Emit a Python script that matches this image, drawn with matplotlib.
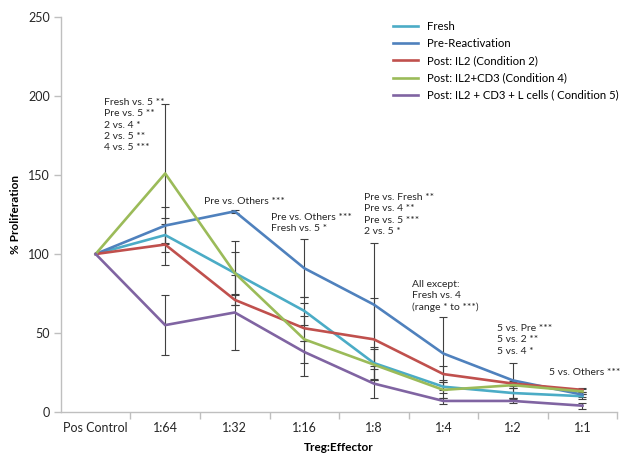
import matplotlib.pyplot as plt
from matplotlib.ticker import FixedLocator

# Dados do grafico
categorias = ['Pos Control', '1:64', '1:32', '1:16', '1:8', '1:4', '1:2', '1:1']

fresh = [100, 112, 88, 64, 31, 16, 12, 10]
fresh_err = [0, 11, 20, 9, 10, 4, 3, 1.5]

pre = [100, 118, 127, 91, 68, 37, 20, 11]
pre_err = [0, 11.5, 1, 18.5, 39, 23, 11, 1.5]

il2 = [100, 106, 71, 53, 46, 24, 18, 14]
il2_err = [0, 13, 3, 8, 26, 5, 1.5, 1.5]

il2_cd3 = [100, 151, 88, 46, 30, 14, 17, 13]
il2_cd3_err = [0, 44, 13.5, 23, 10, 5, 2, 1.5]

il2_cd3_l = [100, 55, 63, 38, 18, 7, 7, 4]
il2_cd3_l_err = [0, 19, 24, 7, 9, 2, 1, 2]

series = [
    ('Fresh', fresh, fresh_err, '#4BACC6'),
    ('Pre-Reactivation', pre, pre_err, '#4F81BD'),
    ('Post: IL2 (Condition 2)', il2, il2_err, '#C0504D'),
    ('Post: IL2+CD3 (Condition 4)', il2_cd3, il2_cd3_err, '#9BBB59'),
    ('Post: IL2 + CD3 + L cells ( Condition 5)', il2_cd3_l, il2_cd3_l_err, '#8064A2'),
]

# Textos de significancia (texto, x, y)
anotacoes = [
    ('Fresh vs. 5 **\nPre vs. 5 **\n2 vs. 4 *\n2 vs. 5 **\n4 vs. 5 ***', 0.12, 181.6),
    ('Pre vs. Others ***', 1.56, 133.5),
    ('Pre vs. Others ***\nFresh vs. 5 *', 2.52, 119.6),
    ('Pre vs. Fresh **\nPre vs. 4 **\nPre vs. 5 ***\n2 vs. 5 *', 3.86, 125),
    ('All except:\nFresh vs. 4\n(range * to ***)', 4.55, 73.4),
    ('5 vs. Pre ***\n5 vs. 2 **\n5 vs. 4 *', 5.77, 45.6),
    ('5 vs. Others ***', 6.52, 24.7),
]

plt.rcParams['font.family'] = ['Lato', 'DejaVu Sans']

fig = plt.figure(figsize=(6.21, 4.54), dpi=100)
ax = fig.add_axes([0.098, 0.0925, 0.896, 0.870])

x = list(range(len(categorias)))

for nome, valores, erros, cor in series:
    ax.plot(x, valores, color=cor, linewidth=1.9, label=nome, zorder=3)
    ax.errorbar(x[1:], valores[1:], yerr=erros[1:], fmt='none', ecolor='#404040',
                elinewidth=0.8, capsize=3, capthick=0.8, zorder=2)

for texto, tx, ty in anotacoes:
    ax.text(tx, ty, texto, fontsize=7.5, color='#262626', ha='left', va='center',
            linespacing=1.3)

# Eixos
ax.set_xlim(-0.5, 7.5)
ax.set_ylim(0, 250)
ax.set_yticks([0, 50, 100, 150, 200, 250])
ax.set_xticks(x)
ax.set_xticklabels(categorias)
ax.xaxis.set_minor_locator(FixedLocator([i + 0.5 for i in x]))
ax.tick_params(axis='x', which='major', length=0, pad=7, labelsize=9, colors='#262626')
ax.tick_params(axis='x', which='minor', length=5, color='#BFBFBF', width=1)
ax.tick_params(axis='y', length=5, color='#BFBFBF', width=1, labelsize=9,
               labelcolor='#262626', pad=3)

for lado in ['top', 'right']:
    ax.spines[lado].set_visible(False)
for lado in ['left', 'bottom']:
    ax.spines[lado].set_color('#BFBFBF')
    ax.spines[lado].set_linewidth(1)

ax.set_xlabel('Treg:Effector', fontsize=8.5, fontweight='bold', labelpad=6)
ax.set_ylabel('% Proliferation', fontsize=8.5, fontweight='bold', labelpad=5)

ax.legend(loc='upper left', bbox_to_anchor=(0.585, 1.008), frameon=False,
          fontsize=8.2, handlelength=2.2, labelspacing=0.55, borderaxespad=0.2)

plt.savefig('out.png', dpi=100)
plt.close()
